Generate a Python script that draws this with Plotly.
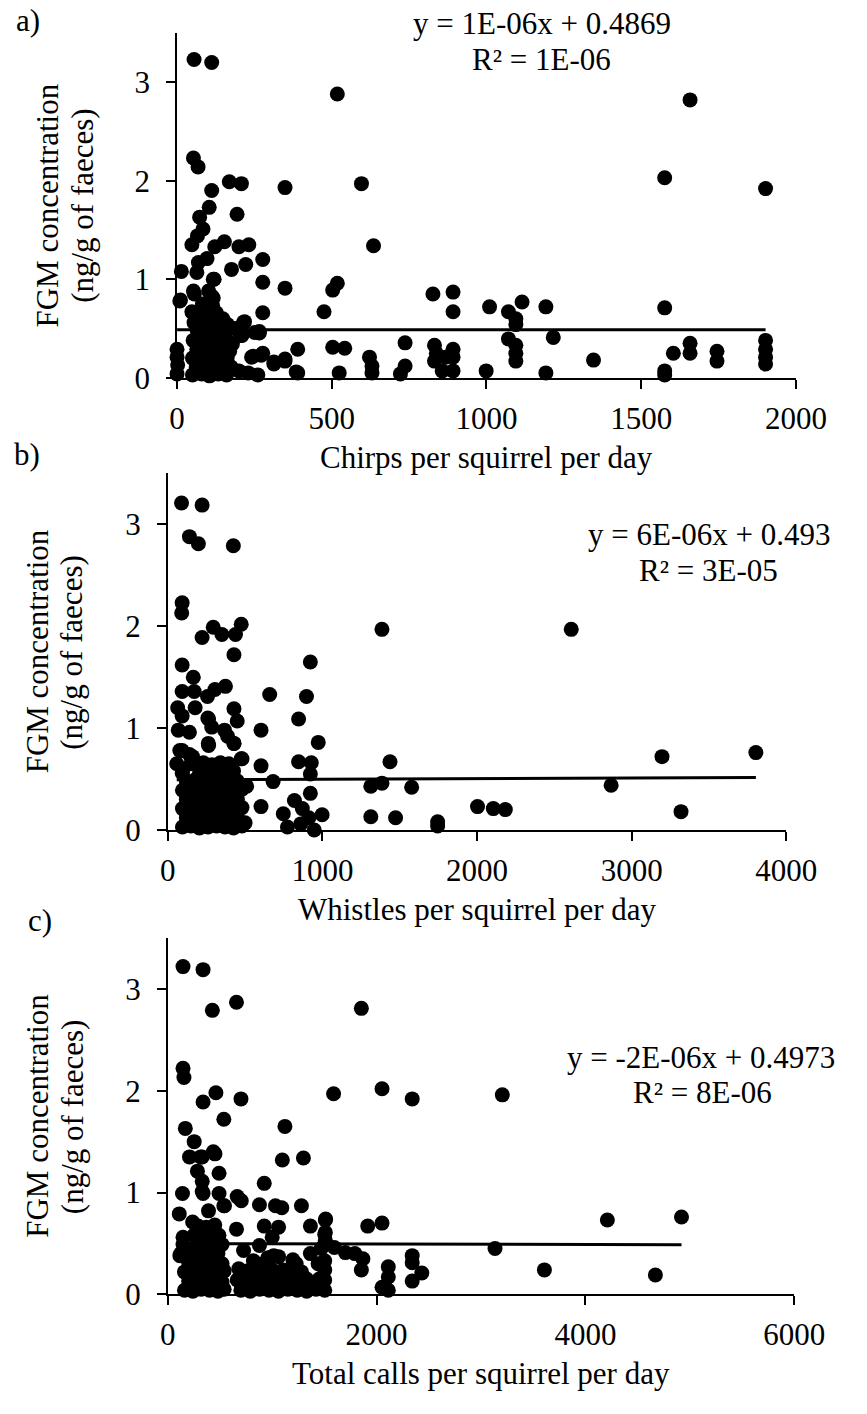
import plotly.graph_objects as go

W, H = 867, 1414
FONT = "Liberation Serif, Times New Roman, serif"
FS = 31

# ---- a) chirps per squirrel per day vs FGM concentration ----
chirps = [55, 112, 518, 1658, 53, 68, 169, 208, 112, 349, 596, 1576, 1902, 104, 194, 73,
          84, 66, 48, 153, 122, 200, 232, 635, 277, 97, 69, 14, 176, 222, 64, 120,
          277, 349, 518, 503, 827, 892, 892, 1010, 11, 53, 112, 277, 475, 48, 82, 148,
          218, 189, 266, 210, 179, 0, 0, 2, 0, 390, 349, 313, 277, 246, 390, 261,
          503, 542, 524, 622, 630, 630, 737, 737, 722, 832, 838, 832, 857, 892, 892, 892,
          868, 999, 1071, 1115, 1095, 1095, 1192, 1071, 1095, 1095, 1095, 1216, 1346, 1192,
          1576, 1576, 1576, 1604, 1658, 1658, 1745, 1745, 1902, 1902, 1902, 1902,
          272, 313, 349, 241, 385, 215, 251, 266, 205, 200, 230, 9, 56, 117, 102, 117,
          50, 86, 127, 148, 163,
          50, 80, 105, 133, 160, 62, 92, 120, 148, 175, 50, 78, 106, 135, 162,
          64, 90, 118, 146, 170, 52, 80, 108, 136, 158, 66, 94, 122, 150,
          55, 82, 110, 138, 70, 100, 128, 88, 115]
fgm_a = [3.23, 3.20, 2.88, 2.82, 2.23, 2.14, 1.99, 1.97, 1.90, 1.93, 1.97, 2.03, 1.92, 1.73, 1.66, 1.63,
         1.51, 1.44, 1.35, 1.38, 1.33, 1.33, 1.35, 1.34, 1.20, 1.21, 1.17, 1.08, 1.10, 1.15, 1.07, 1.00,
         0.97, 0.91, 0.96, 0.89, 0.85, 0.87, 0.67, 0.72, 0.79, 0.88, 0.83, 0.66, 0.67, 0.67, 0.75, 0.60,
         0.57, 0.50, 0.455, 0.43, 0.345, 0.29, 0.21, 0.13, 0.04, 0.29, 0.17, 0.16, 0.25, 0.22, 0.05, 0.03,
         0.31, 0.30, 0.05, 0.21, 0.12, 0.05, 0.355, 0.12, 0.04, 0.33, 0.25, 0.17, 0.07, 0.29, 0.21, 0.07,
         0.21, 0.07, 0.67, 0.77, 0.60, 0.54, 0.72, 0.395, 0.33, 0.25, 0.17, 0.41, 0.18, 0.05,
         0.71, 0.07, 0.03, 0.25, 0.35, 0.25, 0.27, 0.17, 0.38, 0.29, 0.21, 0.14,
         0.23, 0.14, 0.19, 0.21, 0.06, 0.56, 0.46, 0.47, 0.43, 0.07, 0.05, 0.78, 0.85, 1.00, 0.88, 0.81,
         0.66, 0.68, 0.66, 0.56, 0.54,
         0.03, 0.04, 0.02, 0.04, 0.03, 0.11, 0.12, 0.10, 0.12, 0.11, 0.20, 0.21, 0.19, 0.21, 0.20,
         0.29, 0.30, 0.28, 0.30, 0.27, 0.38, 0.39, 0.37, 0.39, 0.40, 0.47, 0.48, 0.46, 0.47,
         0.56, 0.57, 0.55, 0.57, 0.64, 0.66, 0.63, 0.72, 0.73]

# ---- b) whistles per squirrel per day vs FGM concentration ----
whistles = [89, 222, 140, 198, 424, 93, 90, 222, 294, 350, 438, 475, 1385, 2609, 428, 93,
            165, 922, 93, 171, 257, 305, 373, 659, 897, 64, 93, 177, 428, 449, 259, 846,
            68, 140, 603, 973, 262, 387, 428, 93, 140, 475, 58, 603, 846, 928, 1437, 93,
            922, 681, 1313, 1385, 1577, 922, 603, 819, 870, 998, 747, 774, 860, 912, 947, 1313,
            1473, 1745, 1745, 2003, 2105, 2183, 3196, 3803, 2867, 3319,
            264, 284, 367, 428, 264, 160, 78, 480, 510, 500,
            95, 150, 205, 260, 315, 370, 425, 480,
            120, 175, 230, 285, 340, 395, 450,
            95, 150, 205, 260, 315, 370, 425, 480,
            120, 175, 230, 285, 340, 395, 450,
            95, 150, 205, 260, 315, 370, 425, 480,
            120, 175, 230, 285, 340, 395, 450,
            95, 205, 260, 315, 370, 425,
            150, 230, 285, 340, 395]
fgm_b = [3.21, 3.19, 2.88, 2.81, 2.79, 2.23, 2.13, 1.89, 1.99, 1.92, 1.92, 2.02, 1.97, 1.97, 1.72, 1.62,
         1.50, 1.65, 1.36, 1.36, 1.31, 1.38, 1.41, 1.33, 1.31, 1.20, 1.12, 1.20, 1.19, 1.07, 1.10, 1.09,
         0.98, 0.96, 0.98, 0.86, 0.85, 0.92, 0.85, 0.78, 0.74, 0.70, 0.65, 0.63, 0.67, 0.66, 0.67, 0.56,
         0.55, 0.475, 0.43, 0.46, 0.42, 0.36, 0.23, 0.29, 0.21, 0.15, 0.16, 0.03, 0.06, 0.12, 0.00, 0.13,
         0.12, 0.08, 0.04, 0.23, 0.21, 0.20, 0.72, 0.76, 0.44, 0.18,
         1.09, 1.01, 0.98, 0.85, 0.83, 0.72, 0.78, 0.70, 0.43, 0.07,
         0.03, 0.04, 0.02, 0.03, 0.04, 0.03, 0.02, 0.04,
         0.12, 0.11, 0.13, 0.12, 0.11, 0.13, 0.12,
         0.21, 0.22, 0.20, 0.21, 0.22, 0.20, 0.21, 0.22,
         0.30, 0.31, 0.29, 0.30, 0.31, 0.29, 0.30,
         0.39, 0.40, 0.38, 0.39, 0.40, 0.38, 0.39, 0.40,
         0.48, 0.49, 0.47, 0.48, 0.49, 0.47, 0.48,
         0.57, 0.56, 0.58, 0.57, 0.56, 0.58,
         0.65, 0.66, 0.64, 0.66, 0.65]

# ---- c) total calls per squirrel per day vs FGM concentration ----
total_calls = [146, 338, 658, 427, 1854, 146, 155, 461, 338, 701, 1588, 2052, 2341, 3204, 537, 1122,
               168, 253, 208, 329, 452, 1097, 1299, 284, 491, 924, 141, 338, 491, 665, 704, 110,
               537, 878, 1031, 1092, 1280, 238, 1512, 1915, 2052, 658, 924, 1061, 1366, 146, 146, 1503,
               1503, 1000, 878, 726, 1366, 1595, 1701, 1792, 1869, 1854, 125, 1503, 1503, 1503, 1503, 2112,
               2112, 2052, 2112, 2341, 2341, 2433, 2341, 909, 1061, 1107, 4210, 4920, 3134, 3607, 4670, 330,
               330, 436, 315, 390, 543, 1015, 1198, 985, 116, 1509, 1509, 1509, 680, 665,
               160, 240, 320, 400, 480, 540,
               200, 280, 360, 440, 520,
               160, 240, 320, 400, 480, 540,
               200, 280, 360, 440, 520,
               240, 320, 400, 480,
               280, 360, 440, 520,
               250, 330, 410, 490,
               290, 370, 450,
               700, 790, 880, 970, 1060, 1150, 1240, 1330,
               745, 835, 925, 1015, 1105, 1195, 1285,
               700, 790, 880, 970, 1060, 1150, 1240, 1330,
               760, 850, 1000, 1150, 1280,
               1420, 1450, 1440, 1470, 820, 960, 1230]
fgm_c = [3.22, 3.19, 2.87, 2.79, 2.81, 2.22, 2.13, 1.98, 1.89, 1.92, 1.97, 2.02, 1.92, 1.96, 1.72, 1.65,
         1.63, 1.50, 1.35, 1.35, 1.38, 1.32, 1.34, 1.21, 1.19, 1.09, 0.99, 0.99, 0.99, 0.96, 0.92, 0.79,
         0.87, 0.88, 0.87, 0.85, 0.87, 0.71, 0.74, 0.67, 0.70, 0.64, 0.67, 0.66, 0.67, 0.56, 0.49, 0.59,
         0.49, 0.56, 0.48, 0.43, 0.40, 0.46, 0.41, 0.40, 0.35, 0.24, 0.40, 0.33, 0.24, 0.14, 0.04, 0.27,
         0.17, 0.07, 0.04, 0.38, 0.31, 0.21, 0.13, 0.30, 0.37, 0.24, 0.73, 0.76, 0.45, 0.24, 0.19, 1.11,
         1.01, 1.40, 1.35, 0.82, 0.87, 0.38, 0.34, 0.20, 0.38, 0.73, 0.61, 0.53, 0.25, 0.14,
         0.04, 0.03, 0.05, 0.04, 0.03, 0.05,
         0.13, 0.12, 0.14, 0.13, 0.12,
         0.22, 0.21, 0.23, 0.22, 0.21, 0.23,
         0.31, 0.30, 0.32, 0.31, 0.30,
         0.40, 0.41, 0.39, 0.40,
         0.49, 0.48, 0.50, 0.49,
         0.58, 0.57, 0.59, 0.58,
         0.67, 0.66, 0.68,
         0.04, 0.03, 0.05, 0.04, 0.03, 0.05, 0.04, 0.03,
         0.09, 0.10, 0.08, 0.09, 0.10, 0.08, 0.09,
         0.16, 0.15, 0.17, 0.16, 0.15, 0.17, 0.16, 0.15,
         0.23, 0.22, 0.24, 0.23, 0.22,
         0.05, 0.15, 0.30, 0.45, 0.33, 0.36, 0.30]

# Linear trendlines (slope, intercept) and their labels
trend_a = (1e-06, 0.4869)
trend_b = (6e-06, 0.493)
trend_c = (-2e-06, 0.4973)
eq_a = ("y = 1E-06x + 0.4869", "R² = 1E-06")
eq_b = ("y = 6E-06x + 0.493", "R² = 3E-05")
eq_c = ("y = -2E-06x + 0.4973", "R² = 8E-06")

x_titles = ["Chirps per squirrel per day", "Whistles per squirrel per day",
            "Total calls per squirrel per day"]
y_title = ("FGM concentration", "(ng/g of faeces)")
panel_tags = ["a)", "b)", "c)"]


def px(x):
    return x / W


def py(y):
    return 1 - y / H


# pixel layout of the three panels: left, right, top, bottom
boxes = [(177, 825, 33.3, 382.7), (167.3, 815, 479.6, 840.7), (167.3, 823.3, 950.2, 1311)]
x_ranges = [(0, 2000, 500), (0, 4000, 1000), (0, 6000, 2000)]

panels = [(chirps, fgm_a, trend_a), (whistles, fgm_b, trend_b), (total_calls, fgm_c, trend_c)]

fig = go.Figure()
for i, (xs, ys, (m, b)) in enumerate(panels):
    suffix = "" if i == 0 else str(i + 1)
    fig.add_trace(go.Scatter(x=xs, y=ys, mode="markers", xaxis="x" + suffix, yaxis="y" + suffix,
                             marker=dict(color="black", size=15, line=dict(width=0)),
                             cliponaxis=False, showlegend=False, hoverinfo="skip"))
    x0, x1 = min(xs), max(xs)
    fig.add_trace(go.Scatter(x=[x0, x1], y=[m * x0 + b, m * x1 + b], mode="lines",
                             xaxis="x" + suffix, yaxis="y" + suffix,
                             line=dict(color="black", width=3), cliponaxis=False,
                             showlegend=False, hoverinfo="skip"))

axis_common = dict(showline=True, linecolor="black", linewidth=1.5, ticks="outside", ticklen=9,
                   tickwidth=1.5, tickcolor="black", showgrid=False, zeroline=False,
                   tickfont=dict(family=FONT, size=FS, color="black"), fixedrange=True)

layout = dict(width=W, height=H, margin=dict(l=0, r=0, t=0, b=0),
              paper_bgcolor="white", plot_bgcolor="white", showlegend=False)

annotations = []
for i, ((l, r, t, btm), (lo, hi, dt)) in enumerate(zip(boxes, x_ranges)):
    suffix = "" if i == 0 else str(i + 1)
    layout["xaxis" + suffix] = dict(axis_common, domain=[px(l), px(r)], range=[lo, hi], dtick=dt,
                                    tick0=0, anchor="y" + suffix, ticklabelstandoff=3)
    layout["yaxis" + suffix] = dict(axis_common, domain=[py(btm), py(t)], range=[0, 3.5],
                                    tickvals=[0, 1, 2, 3], anchor="x" + suffix,
                                    ticklabelstandoff=10)

tfont = dict(family=FONT, size=FS, color="black")

# panel tags
for tag, (xp, yp) in zip(panel_tags, [(21, 21), (20, 460), (34, 932)]):
    annotations.append(dict(text=tag, x=px(xp), y=py(yp), xref="paper", yref="paper",
                            showarrow=False, font=tfont, xanchor="center", yanchor="middle"))

# axis titles
y_title_x = [(41, 78), (31, 67), (31, 67)]
x_title_y = [463, 921, 1391]
for i, (l, r, t, btm) in enumerate(boxes):
    yc = (t + btm) / 2
    for txt, xp in zip(y_title, y_title_x[i]):
        annotations.append(dict(text=txt, x=px(xp), y=py(yc), xref="paper", yref="paper",
                                showarrow=False, font=tfont, textangle=-90,
                                xanchor="center", yanchor="middle"))
    annotations.append(dict(text=x_titles[i], x=px((l + r) / 2), y=py(x_title_y[i]),
                            xref="paper", yref="paper", showarrow=False, font=tfont,
                            xanchor="center", yanchor="middle"))

# trendline equations
eq_pos = [((559.5, 23.5), (559, 60.5)), ((734, 541), (733, 577.5)), ((725.5, 1071), (727, 1106.5))]
for (l1, l2), (p1, p2) in zip([eq_a, eq_b, eq_c], eq_pos):
    for txt, (xp, yp) in ((l1, p1), (l2, p2)):
        annotations.append(dict(text=txt, x=px(xp), y=py(yp), xref="paper", yref="paper",
                                showarrow=False, font=tfont, xanchor="center", yanchor="middle"))

layout["annotations"] = annotations
fig.update_layout(**layout)
fig.write_html("out.html")
